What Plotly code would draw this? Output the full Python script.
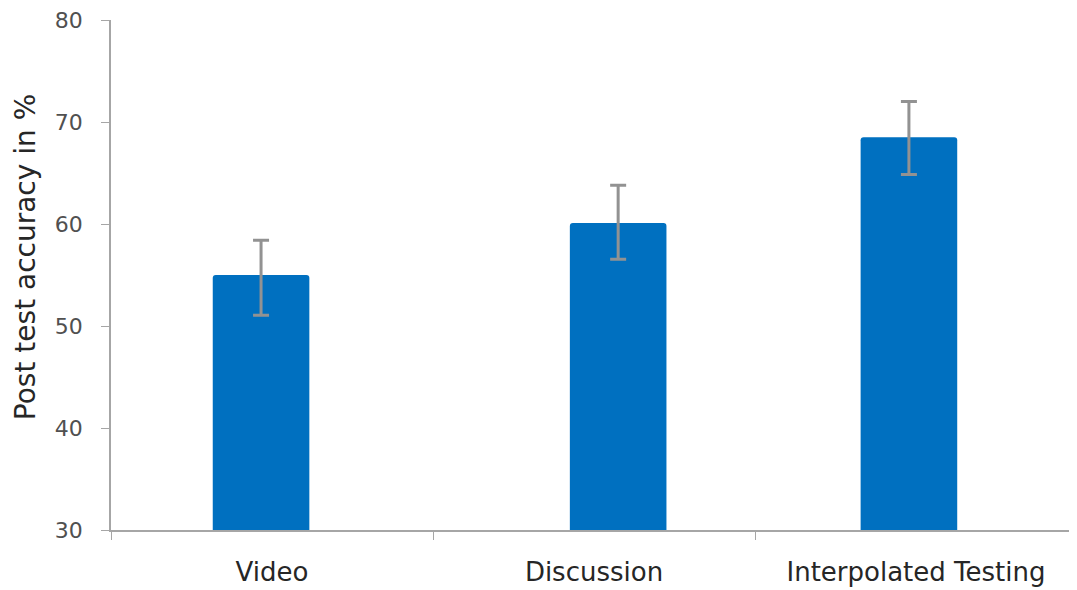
import plotly.graph_objects as go

categories = ["Video", "Discussion", "Interpolated Testing"]
accuracy = [55.0, 60.1, 68.5]
err_plus = [3.4, 3.7, 3.5]
err_minus = [3.95, 3.55, 3.65]
y_ticks = [30, 40, 50, 60, 70, 80]
y_title = "Post test accuracy in %"

fig = go.Figure()
fig.add_trace(go.Bar(
    x=categories,
    y=accuracy,
    width=0.3,
    offset=[-0.184, -0.075, -0.172],
    marker=dict(color="#0070C0", line=dict(width=0)),
    error_y=dict(type="data", symmetric=False, array=err_plus, arrayminus=err_minus,
                 color="#929292", thickness=3, width=8),
))

fig.update_layout(
    width=1069, height=582,
    margin=dict(l=103, r=0, t=10, b=60),
    plot_bgcolor="white", paper_bgcolor="white",
    showlegend=False,
    barcornerradius=3,
    font=dict(family="DejaVu Sans", size=20, color="#404040"),
)
fig.update_xaxes(
    type="category",
    showline=True, linecolor="#a6a6a6", linewidth=1.5,
    ticks="outside", tickson="boundaries", ticklen=8, tickcolor="#a6a6a6",
    tickfont=dict(size=26, color="#262626"),
    ticklabelstandoff=18,
    showgrid=False, zeroline=False,
)
fig.update_yaxes(
    range=[30, 80], tickvals=y_ticks,
    showline=True, linecolor="#a6a6a6", linewidth=1.5,
    ticks="outside", ticklen=8, tickcolor="#a6a6a6",
    tickfont=dict(size=22, color="#505050"),
    ticklabelstandoff=14,
    ticklabeloverflow="allow",
    showgrid=False, zeroline=False,
)
fig.add_annotation(
    text=y_title, textangle=-90,
    xref="paper", yref="paper", x=0, y=0.535,
    xanchor="center", yanchor="middle", xshift=-86,
    showarrow=False,
    font=dict(size=28, color="#262626"),
)

fig.write_html("out.html")
